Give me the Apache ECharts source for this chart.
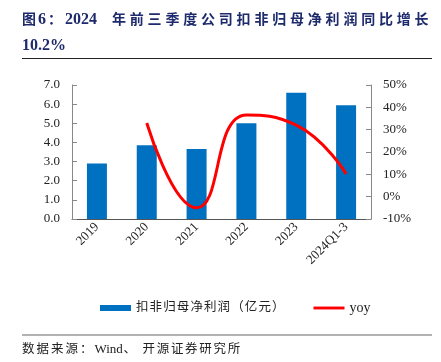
<!DOCTYPE html>
<html><head><meta charset="utf-8">
<script src="https://cdn.jsdelivr.net/npm/echarts@6/dist/echarts.min.js"></script>
<style>html,body{margin:0;padding:0;background:#fff}#c{width:441px;height:362px}</style>
</head><body><div id="c"></div>
<script>
const categories = ['2019','2020','2021','2022','2023','2024Q1-3'];
const profitValues = [2.9, 3.85, 3.66, 5.0, 6.6, 5.94];
const yoyValues = [null, 33, -5, 36.6, 32, 10.2];
const leftTicks = {min: 0, max: 7, interval: 1};
const rightTicks = {min: -10, max: 50, interval: 10};
const seriesNames = ['扣非归母净利润（亿元）', 'yoy'];
const titleHead = ['图', '6', '：', '2024'];
const titleBody = '年前三季度公司扣非归母净利润同比增长';
const titleLine2 = '10.2%';
const sourceHead = '数据来源：';
const sourceMid = 'Wind';
const sourceTail = '开源证券研究所';

const serif = '"Liberation Serif","Noto Sans CJK SC",serif';
const cjk = s => s.split('').map(ch => '{c|' + ch + '}').join('');
const titleRich = '{h0|' + titleHead[0] + '}{h1|' + titleHead[1] + '}{h2|' + titleHead[2] + '}{h3|' + titleHead[3] + '}' + cjk(titleBody);
const srcRich = sourceHead.split('').map(ch => '{s|' + ch + '}').join('') + '{w|' + sourceMid + '}{d|、}' + sourceTail.split('').map(ch => '{t|' + ch + '}').join('');
const navy = '#1d2a6b';
const src = {fontFamily: serif, fontWeight: 'normal', color: '#222'};

const chart = echarts.init(document.getElementById('c'), null, {renderer: 'canvas'});
chart.setOption({
  animation: false,
  title: [
    {left: 22, top: 12, padding: 0, text: titleRich, textStyle: {rich: {
      h0: {width: 16, fontSize: 14, fontWeight: 'bold', fontFamily: serif, color: navy},
      h1: {width: 10, fontSize: 16, fontWeight: 'bold', fontFamily: serif, color: navy},
      h2: {width: 17, fontSize: 14, fontWeight: 'bold', fontFamily: serif, color: navy},
      h3: {width: 47, fontSize: 16, fontWeight: 'bold', fontFamily: serif, color: navy},
      c: {width: 17.8, fontSize: 14, fontWeight: 'bold', fontFamily: serif, color: navy}
    }}},
    {left: 22, top: 38, padding: 0, text: titleLine2, textStyle: {fontSize: 16, fontWeight: 'bold', fontFamily: serif, color: navy}},
    {left: 22, top: 343, padding: 0, text: srcRich, textStyle: {fontWeight: 'normal', rich: {
      s: Object.assign({width: 14.5, fontSize: 12.5}, src),
      w: Object.assign({width: 29, fontSize: 13}, src),
      d: Object.assign({width: 19, fontSize: 12.5}, src),
      t: Object.assign({width: 14.2, fontSize: 12.5}, src)
    }}}
  ],
  graphic: [
    {type: 'line', shape: {x1: 22, y1: 58.5, x2: 432, y2: 58.5}, style: {stroke: '#222', lineWidth: 1}},
    {type: 'line', shape: {x1: 22, y1: 335, x2: 432, y2: 335}, style: {stroke: '#999', lineWidth: 1.5}}
  ],
  legend: {
    left: 95, top: 296, itemGap: 29, itemWidth: 31, itemHeight: 6,
    formatter: name => name === seriesNames[0] ? name.split('').map(ch => '{c|' + ch + '}').join('') : '{y|' + name + '}',
    textStyle: {fontFamily: serif, fontSize: 13, color: '#222', rich: {
      c: {width: 13.6, fontSize: 12.5, fontFamily: serif, color: '#222'},
      y: {fontSize: 14, fontFamily: serif, color: '#222'}
    }},
    data: [
      {name: seriesNames[0], icon: 'rect'},
      {name: seriesNames[1], icon: 'path://M0,0h32v3h-32z', itemStyle: {color: '#FF0000'}}
    ]
  },
  grid: {left: 72, right: 70, top: 85, bottom: 143},
  xAxis: {
    type: 'category', data: categories,
    axisLine: {lineStyle: {color: '#555'}},
    axisTick: {inside: true, length: 4, lineStyle: {color: '#555'}},
    axisLabel: {rotate: 45, fontFamily: serif, fontSize: 13, color: '#222', margin: 6}
  },
  yAxis: [
    {type: 'value', min: leftTicks.min, max: leftTicks.max, interval: leftTicks.interval,
     axisLine: {show: true, lineStyle: {color: '#888'}},
     axisTick: {show: true, inside: true, length: 5, lineStyle: {color: '#888'}},
     splitLine: {show: false},
     axisLabel: {formatter: v => v.toFixed(1), fontFamily: serif, fontSize: 13, color: '#222', margin: 12}},
    {type: 'value', min: rightTicks.min, max: rightTicks.max, interval: rightTicks.interval,
     axisLine: {show: true, lineStyle: {color: '#888'}},
     axisTick: {show: true, inside: true, length: 5, lineStyle: {color: '#888'}},
     splitLine: {show: false},
     axisLabel: {formatter: v => v + '%', fontFamily: serif, fontSize: 13, color: '#222', margin: 12}}
  ],
  series: [
    {name: seriesNames[0], type: 'bar', data: profitValues, barWidth: 20, itemStyle: {color: '#0070C0'}},
    {name: seriesNames[1], type: 'line', yAxisIndex: 1, data: yoyValues, smooth: true, symbol: 'none',
     lineStyle: {color: '#FF0000', width: 3}, itemStyle: {color: '#FF0000'}}
  ]
});
</script></body></html>
